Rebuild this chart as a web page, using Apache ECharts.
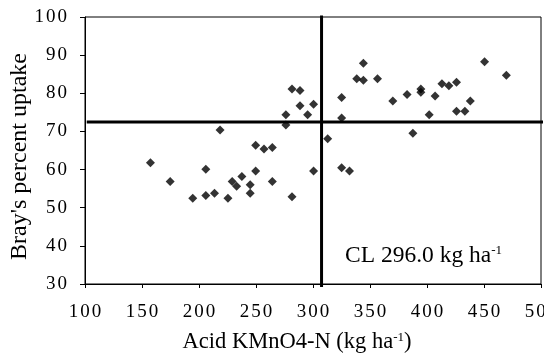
<!DOCTYPE html>
<html>
<head>
<meta charset="utf-8">
<script src="https://cdn.jsdelivr.net/npm/echarts@6/dist/echarts.min.js"></script>
<style>
html,body{margin:0;padding:0;background:#fff;}
#chart{width:544px;height:358px;}
</style>
</head>
<body>
<div id="chart"></div>
<script>
var xValues = [157.4,174.7,194.5,206.0,206.0,213.6,218.5,225.4,229.1,233.0,237.6,244.9,244.9,249.7,249.7,257.0,264.3,264.3,276.2,276.2,281.6,281.6,288.6,288.6,295.3,300.5,300.5,312.9,325.1,325.1,325.1,332.0,338.4,344.2,344.2,356.6,370.0,382.5,387.6,394.6,394.6,401.9,407.1,413.1,419.2,425.9,425.9,433.2,438.0,450.5,469.6];
var yValues = [61.8,56.9,52.5,60.1,53.2,53.8,70.4,52.5,56.9,55.6,58.2,56.0,53.8,66.4,59.6,65.4,65.8,56.9,74.4,71.7,81.1,52.9,80.7,76.7,74.4,77.1,59.6,68.1,78.9,73.5,60.5,59.6,83.8,87.9,83.4,83.8,78.0,79.7,69.5,81.1,80.3,74.4,79.3,82.5,82.0,82.9,75.3,75.3,78.0,88.3,84.7];
var criticalX = 307.5;
var criticalY = 72.5;
var vLineY = [29.2, 100.4];
var hLineX = [101.5, 503];
var xTicks = {min:100, max:500, interval:50};
var yTicks = {min:30, max:100, interval:10};
var xTitle = 'Acid KMnO4-N (kg ha{sup|-1})';
var yTitle = "Bray's percent uptake";
var clLabel = 'CL 296.0 kg ha{sup|-1}';

var FONT = 'Liberation Serif';
function spaced(v){ return String(v).split('').map(function(c){return '{d|'+c+'}';}).join(''); }
var digitRich = {d:{fontFamily:FONT, fontSize:19, color:'#000', padding:[0,1,0,1]}};

var points = xValues.map(function(x,i){ return [x, yValues[i]]; });

var chart = echarts.init(document.getElementById('chart'), null, {renderer:'canvas'});
chart.setOption({
  animation:false,
  backgroundColor:'#fff',
  grid:{left:85, right:3, top:17, bottom:74, containLabel:false, outerBoundsMode:'none', show:true, borderColor:'#000', borderWidth:1, backgroundColor:'transparent'},
  xAxis:{
    type:'value', min:xTicks.min, max:xTicks.max, interval:xTicks.interval,
    axisLine:{show:true, onZero:false, lineStyle:{color:'#000', width:1}},
    axisTick:{show:true, inside:false, length:4, lineStyle:{color:'#000'}},
    splitLine:{show:false},
    axisLabel:{color:'#000', fontFamily:FONT, fontSize:19, margin:19, hideOverlap:false, formatter:function(v){return spaced(v);}, rich:digitRich},
    name:xTitle, nameLocation:'middle', nameGap:47, nameMoveOverlap:false,
    nameTextStyle:{color:'#000', fontFamily:FONT, fontSize:22.5, padding:[0,32,0,0],
      rich:{sup:{fontSize:13, fontFamily:FONT, color:'#000', verticalAlign:'top', padding:[0,0,9,0]}}}
  },
  yAxis:{
    type:'value', min:yTicks.min, max:yTicks.max, interval:yTicks.interval,
    axisLine:{show:true, onZero:false, lineStyle:{color:'#000', width:1}},
    axisTick:{show:true, inside:false, length:5, lineStyle:{color:'#000'}},
    splitLine:{show:false},
    axisLabel:{color:'#000', fontFamily:FONT, fontSize:19, margin:17, formatter:function(v){return spaced(v);}, rich:digitRich},
    name:yTitle, nameLocation:'middle', nameGap:53, nameRotate:90, nameMoveOverlap:false,
    nameTextStyle:{color:'#000', fontFamily:FONT, fontSize:24, padding:[0,12,0,0]}
  },
  series:[
    {type:'scatter', data:points, symbol:'diamond', symbolSize:9, itemStyle:{color:'#000'}, z:3},
    {type:'line', data:[[criticalX, vLineY[0]],[criticalX, vLineY[1]]], clip:false, symbol:'none', lineStyle:{color:'#000', width:3}, z:2},
    {type:'line', data:[[hLineX[0], criticalY],[hLineX[1], criticalY]], clip:false, symbol:'none', lineStyle:{color:'#000', width:3}, z:2}
  ],
  graphic:[{
    type:'text', x:345, y:256,
    style:{text:clLabel, fill:'#000', font:'23.5px "Liberation Serif"', verticalAlign:'middle',
      rich:{sup:{fontSize:13, fontFamily:FONT, fill:'#000', verticalAlign:'top', padding:[0,0,9,0]}}}
  }]
});
</script>
</body>
</html>
